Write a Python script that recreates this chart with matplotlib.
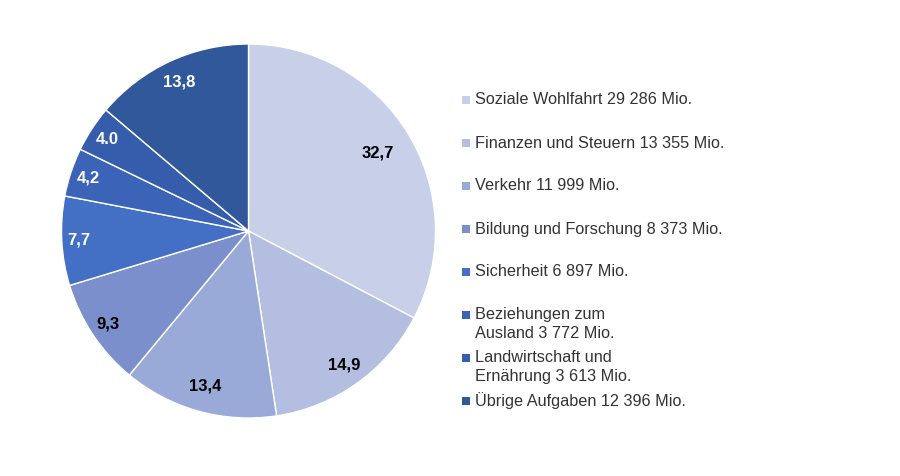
import numpy as np
import matplotlib
matplotlib.use("Agg")
import matplotlib.pyplot as plt
from matplotlib.patches import Rectangle

plt.rcParams['font.family'] = ['Liberation Sans', 'DejaVu Sans']

# Anteile in Prozent (im Uhrzeigersinn ab 12 Uhr)
shares = [32.7, 14.9, 13.4, 9.3, 7.7, 4.2, 4.0, 13.8]
share_labels = ["32,7", "14,9", "13,4", "9,3", "7,7", "4,2", "4.0", "13,8"]
legend_labels = [
    "Soziale Wohlfahrt 29 286 Mio.",
    "Finanzen und Steuern 13 355 Mio.",
    "Verkehr 11 999 Mio.",
    "Bildung und Forschung 8 373 Mio.",
    "Sicherheit 6 897 Mio.",
    "Beziehungen zum\nAusland 3 772 Mio.",
    "Landwirtschaft und\nErnährung 3 613 Mio.",
    "Übrige Aufgaben 12 396 Mio.",
]

colors = ["#c8d0e9", "#b3bee0", "#9aaad8", "#7a8fcc",
          "#4370c4", "#3b63b8", "#365cac", "#30589a"]
text_colors = ["black", "black", "black", "black", "white", "white", "white", "white"]
label_dist = [0.81, 0.88, 0.86, 0.9, 0.91, 0.9, 0.9, 0.88]

W, H = 900, 476
fig = plt.figure(figsize=(W / 100, H / 100), dpi=100)
fig.patch.set_facecolor("white")

cx, cy, r = 248.5, 231, 187
ax = fig.add_axes([(cx - r) / W, 1 - (cy + r) / H, 2 * r / W, 2 * r / H])
wedges, _ = ax.pie(shares, colors=colors, startangle=90, counterclock=False,
                   radius=1, wedgeprops=dict(edgecolor="white", linewidth=1))
ax.set_xlim(-1, 1)
ax.set_ylim(-1, 1)
ax.set_aspect("equal")
ax.axis("off")

for w, lab, tc, d in zip(wedges, share_labels, text_colors, label_dist):
    ang = np.deg2rad((w.theta1 + w.theta2) / 2)
    ax.text(d * np.cos(ang), d * np.sin(ang), lab, ha="center", va="center",
            fontsize=12, fontweight="bold", color=tc)

# Legende
for i, (lab, col) in enumerate(zip(legend_labels, colors)):
    y = 100 + 43 * i
    fig.patches.append(Rectangle((462 / W, 1 - (y + 4) / H), 8 / W, 8 / H,
                                 transform=fig.transFigure, facecolor=col,
                                 edgecolor="none"))
    for j, line in enumerate(lab.split("\n")):
        fig.text(475 / W, 1 - (y + 18 * j) / H, line, ha="left", va="center",
                 fontsize=11.7, color="#333333")

fig.savefig("out.png", dpi=100)
